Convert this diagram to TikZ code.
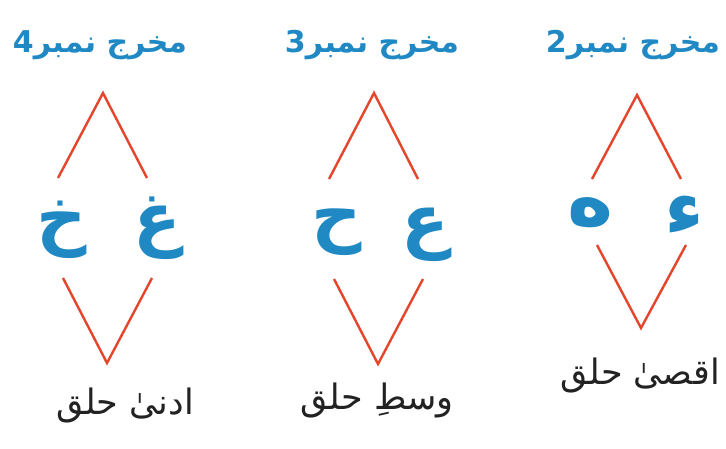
\documentclass[tikz,border=0pt]{standalone}
\usepackage{fontspec}
\newfontfamily\arabicfont[Script=Arabic]{DejaVu Sans}
\TeXXeTstate=1
\definecolor{harfblue}{HTML}{2089C4}
\definecolor{lakeer}{HTML}{E5452B}
\definecolor{siyah}{HTML}{222222}
\usetikzlibrary{positioning}
\tikzset{
  title/.style={text=harfblue,inner sep=0pt,font=\arabicfont\bfseries\fontsize{30}{36}\selectfont},
  harf/.style={text=harfblue,inner sep=0pt,font=\arabicfont\bfseries\fontsize{70}{80}\selectfont},
  harfsmall/.style={harf,font=\arabicfont\bfseries\fontsize{78}{86}\selectfont},
  naam/.style={text=siyah,inner sep=0pt,font=\arabicfont\fontsize{35}{42}\selectfont},
  side/.style={draw=lakeer,line width=2.4pt,line join=miter}
}
\begin{document}
\begin{tikzpicture}[x=1pt,y=-1pt]
  \useasboundingbox[fill=white] (0,0) rectangle (726,448);
  % titles
  \node[title] (m4) at (100,45) {\beginR مخرج نمبر4\endR};
  \node[title] (m3) at (372,45) {\beginR مخرج نمبر3\endR};
  \node[title] (m2) at (633,45) {\beginR مخرج نمبر2\endR};
  % letters
  \node[harf] (kha)  at (62,230)  {\beginR خ\endR};
  \node[harf] (ghai) at (157,228) {\beginR غ\endR};
  \node[harf] (hha)  at (337,232) {\beginR ح\endR};
  \node[harf] (ain)  at (425,235) {\beginR ع\endR};
  \node[harfsmall] (hay)   at (591,213) {\beginR ه\endR};
  \node[harfsmall] (hamza) at (684,215) {\beginR ء\endR};
  % names
  \node[naam] (adna)  at (125,405) {\beginR ادنیٰ حلق\endR};
  \node[naam] (wasat) at (377,400) {\beginR وسطِ حلق\endR};
  \node[naam] (aqsa)  at (640,375) {\beginR اقصیٰ حلق\endR};
  % diamonds
  \coordinate (t4) at (103,93);  \coordinate (b4) at (107,363);
  \coordinate (t3) at (374,93);  \coordinate (b3) at (378,364);
  \coordinate (t2) at (637,95);  \coordinate (b2) at (641,328);
  \draw[side] (58,178) -- (t4) -- (147,178);
  \draw[side] (63,278) -- (b4) -- (152,278);
  \draw[side] (329,179) -- (t3) -- (418,179);
  \draw[side] (334,279) -- (b3) -- (423,279);
  \draw[side] (592,179) -- (t2) -- (681,179);
  \draw[side] (597,245) -- (b2) -- (686,245);
\end{tikzpicture}
\end{document}
